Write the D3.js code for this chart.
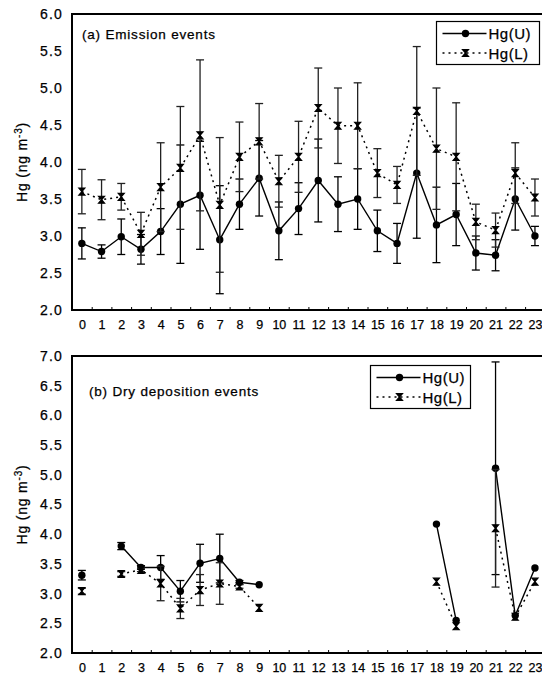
<!DOCTYPE html>
<html>
<head>
<meta charset="utf-8">
<script src="https://cdn.jsdelivr.net/npm/d3@7"></script>
<style>
  body { margin: 0; background: #fff; }
  text { font-family: "Liberation Sans", Arial, sans-serif; fill: #000; stroke: #000; stroke-width: 0.25px; }
</style>
</head>
<body>
<div id="holder"></div>
<script>
const w = 542;
const h = 675;

// hours of day
const hours = [0, 1, 2, 3, 4, 5, 6, 7, 8, 9, 10, 11, 12, 13, 14, 15, 16, 17, 18, 19, 20, 21, 22, 23];

// (a) emission events - mean and sd
const emisU   = [2.90, 2.79, 2.99, 2.82, 3.06, 3.43, 3.55, 2.95, 3.43, 3.78, 3.07, 3.37, 3.75, 3.43, 3.50, 3.07, 2.90, 3.85, 3.15, 3.29, 2.77, 2.74, 3.50, 3.00];
const emisUsd = [0.21, 0.09, 0.24, 0.20, 0.31, 0.80, 0.73, 0.73, 0.34, 0.51, 0.39, 0.35, 0.56, 0.37, 0.41, 0.28, 0.27, 0.88, 0.51, 0.42, 0.23, 0.21, 0.42, 0.13];
const emisL   = [3.60, 3.49, 3.53, 3.03, 3.66, 3.92, 4.36, 3.42, 4.07, 4.28, 3.74, 4.07, 4.73, 4.49, 4.49, 3.85, 3.69, 4.69, 4.18, 4.07, 3.19, 3.08, 3.85, 3.52];
const emisLsd = [0.30, 0.27, 0.18, 0.29, 0.60, 0.83, 1.02, 0.91, 0.47, 0.51, 0.35, 0.48, 0.54, 0.51, 0.58, 0.33, 0.25, 0.87, 0.82, 0.73, 0.24, 0.23, 0.41, 0.25];

// (b) dry deposition events (null = no data)
const dryU   = [3.31, null, 3.80, 3.44, 3.44, 3.04, 3.51, 3.59, 3.19, 3.15, null, null, null, null, null, null, null, null, 4.17, 2.55, null, 5.11, 2.63, 3.43];
const dryUsd = [0.08, null, 0.06, 0.03, 0.20, 0.18, 0.32, 0.41, 0.03, 0, null, null, null, null, null, null, null, null, 0, 0, null, 1.79, 0, 0];
const dryL   = [3.04, null, 3.33, 3.40, 3.17, 2.75, 3.06, 3.17, 3.12, 2.76, null, null, null, null, null, null, null, null, 3.20, 2.45, null, 4.10, 2.61, 3.20];
const dryLsd = [0.05, null, 0.04, 0.03, 0.29, 0.17, 0.26, 0.35, 0.03, 0, null, null, null, null, null, null, null, null, 0, 0, null, 0.99, 0, 0];

const seriesNames = ["Hg(U)", "Hg(L)"];

const svg = d3.select("#holder")
    .append("svg")
    .attr("width", w)
    .attr("height", h);

const x = d3.scaleLinear().domain([-0.5, 23.5]).range([72, 72 + 24 * 19.7]);

// hourglass marker for Hg(L)
const crossPath = "M-3,-3.5 L3,-3.5 L-3,3.5 L3,3.5 Z";

function drawMarkers(g, pts, kind) {
    if (kind === "U") {
        g.selectAll("circle.m").data(pts).enter()
            .append("circle")
            .attr("class", "m")
            .attr("cx", d => d.x).attr("cy", d => d.y)
            .attr("r", 3.7)
            .attr("fill", "#000");
    } else {
        g.selectAll("path.m").data(pts).enter()
            .append("path")
            .attr("class", "m")
            .attr("d", crossPath)
            .attr("transform", d => `translate(${d.x},${d.y})`)
            .attr("fill", "#000")
            .attr("stroke", "#000")
            .attr("stroke-width", 1.2);
    }
}

function panel(cfg) {
    const y = d3.scaleLinear().domain(cfg.domain).range([cfg.bottom, cfg.top]);
    const g = svg.append("g");

    // y axis labels
    g.append("g")
        .attr("transform", `translate(${x.range()[0]},0)`)
        .call(d3.axisLeft(y).tickValues(cfg.yTicks).tickSize(0).tickPadding(9).tickFormat(d3.format(".1f")))
        .call(a => a.select(".domain").remove())
        .selectAll("text")
        .style("font-size", "14px")
        .style("letter-spacing", "1.2px")
        .style("font-family", "'Liberation Sans', Arial, sans-serif");

    // x axis labels
    g.append("g")
        .attr("transform", `translate(0,${cfg.bottom})`)
        .call(d3.axisBottom(x).tickValues(hours).tickSize(0).tickPadding(10).tickFormat(d => d))
        .call(a => a.select(".domain").remove())
        .selectAll("text")
        .style("font-size", "12.5px")
        .style("font-family", "'Liberation Sans', Arial, sans-serif");

    // inward half-hour ticks
    g.append("g")
        .attr("transform", `translate(0,${cfg.bottom})`)
        .call(d3.axisBottom(x).tickValues(hours.map(d => d + 0.5)).tickSize(-3).tickFormat(""))
        .call(a => a.select(".domain").remove())
        .selectAll("line").attr("stroke", "#000").attr("stroke-width", 1);

    // frame
    g.append("rect")
        .attr("x", x.range()[0]).attr("y", cfg.top)
        .attr("width", x.range()[1] - x.range()[0])
        .attr("height", cfg.bottom - cfg.top)
        .attr("fill", "none")
        .attr("stroke", "#000")
        .attr("stroke-width", 2);

    // panel title
    g.append("text")
        .attr("x", cfg.titleX).attr("y", cfg.titleY)
        .style("font-size", "13.5px")
        .style("letter-spacing", "0.8px")
        .text(cfg.title);

    // y axis title
    const yt = g.append("text")
        .attr("transform", `translate(27,${(cfg.top + cfg.bottom) / 2}) rotate(-90)`)
        .attr("text-anchor", "middle")
        .style("font-size", "14px")
        .style("letter-spacing", "0.8px");
    yt.append("tspan").text("Hg (ng m");
    yt.append("tspan").attr("dy", -5).style("font-size", "10px").text("-3");
    yt.append("tspan").attr("dy", 5).text(")");

    const series = [
        { kind: "U", vals: cfg.u, sd: cfg.usd, dash: null },
        { kind: "L", vals: cfg.l, sd: cfg.lsd, dash: "2,4" }
    ];

    series.forEach(s => {
        const pts = hours.map((hr, i) => ({ hr: hr, v: s.vals[i], sd: s.sd[i] }))
            .filter(d => d.v !== null)
            .map(d => ({ x: x(d.hr), y: y(d.v), hr: d.hr, v: d.v, sd: d.sd }));

        // error bars
        const eb = g.append("g").attr("stroke", s.kind === "U" ? "#000" : "#222").attr("stroke-width", 1.3);
        pts.filter(d => d.sd > 0).forEach(d => {
            const y1 = y(d.v + d.sd), y0 = y(d.v - d.sd);
            eb.append("line").attr("x1", d.x).attr("x2", d.x).attr("y1", y1).attr("y2", y0);
            eb.append("line").attr("x1", d.x - 4).attr("x2", d.x + 4).attr("y1", y1).attr("y2", y1);
            eb.append("line").attr("x1", d.x - 4).attr("x2", d.x + 4).attr("y1", y0).attr("y2", y0);
        });

        // connecting line (breaks at missing hours)
        const line = d3.line()
            .defined((d, i) => d !== null)
            .x((d, i) => x(hours[i]))
            .y(d => y(d));
        g.append("path")
            .datum(s.vals)
            .attr("d", line)
            .attr("fill", "none")
            .attr("stroke", "#000")
            .attr("stroke-width", s.kind === "U" ? 1.4 : 1.5)
            .attr("stroke-dasharray", s.dash);

        drawMarkers(g.append("g"), pts, s.kind);
    });

    // legend
    const lg = g.append("g").attr("transform", `translate(${cfg.legX},${cfg.legY})`);
    lg.append("rect")
        .attr("width", cfg.legW).attr("height", cfg.legH)
        .attr("fill", "#fff").attr("stroke", "#000").attr("stroke-width", 1.2);
    seriesNames.forEach((name, i) => {
        const ry = 12 + i * 19.5;
        lg.append("line")
            .attr("x1", 6).attr("x2", 50).attr("y1", ry).attr("y2", ry)
            .attr("stroke", "#000").attr("stroke-width", 1.3)
            .attr("stroke-dasharray", i === 0 ? null : "2,4");
        drawMarkers(lg.append("g"), [{ x: 29, y: ry }], i === 0 ? "U" : "L");
        lg.append("text")
            .attr("x", 52).attr("y", ry + 5.5)
            .style("font-size", "15px")
            .style("letter-spacing", "0.5px")
            .text(name);
    });
}

panel({
    top: 14, bottom: 310, domain: [2, 6],
    yTicks: [2.0, 2.5, 3.0, 3.5, 4.0, 4.5, 5.0, 5.5, 6.0],
    u: emisU, usd: emisUsd, l: emisL, lsd: emisLsd,
    title: "(a) Emission events", titleX: 82, titleY: 39,
    legX: 436.5, legY: 21.5, legW: 103, legH: 43
});

panel({
    top: 356, bottom: 653, domain: [2, 7],
    yTicks: [2.0, 2.5, 3.0, 3.5, 4.0, 4.5, 5.0, 5.5, 6.0, 6.5, 7.0],
    u: dryU, usd: dryUsd, l: dryL, lsd: dryLsd,
    title: "(b) Dry deposition events", titleX: 89, titleY: 396,
    legX: 370.5, legY: 365.5, legW: 100, legH: 43
});
</script>
</body>
</html>
